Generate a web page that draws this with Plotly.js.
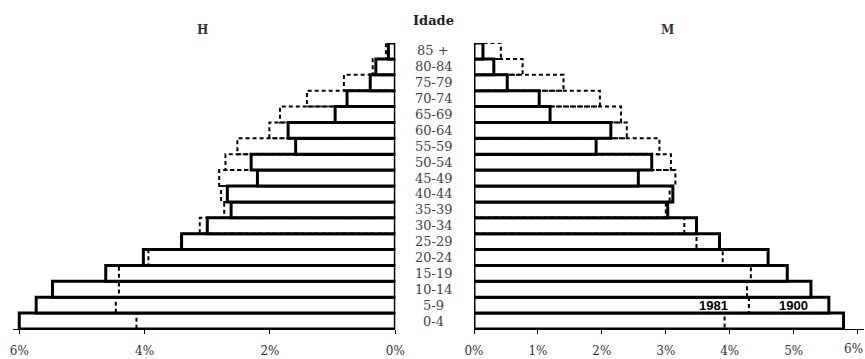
<!DOCTYPE html>
<html>
<head>
<meta charset="utf-8">
<script src="https://cdn.plot.ly/plotly-3.0.1.min.js"></script>
<style>html,body{margin:0;padding:0;background:#fff;}#chart{width:865px;height:359px;}</style>
</head>
<body>
<div id="chart"></div>
<script>
// Age groups, bottom to top
var ageGroups = ["0-4","5-9","10-14","15-19","20-24","25-29","30-34","35-39","40-44","45-49","50-54","55-59","60-64","65-69","70-74","75-79","80-84","85 +"];
// Men (H), percent of population
var men1900 = [6.00,5.73,5.47,4.62,4.02,3.41,3.00,2.62,2.68,2.20,2.30,1.59,1.71,0.96,0.77,0.40,0.31,0.11];
var men1981 = [4.13,4.46,4.41,4.41,3.94,3.42,3.12,2.73,2.78,2.81,2.71,2.52,2.01,1.84,1.41,0.82,0.36,0.15];
// Women (M), percent of population
var women1900 = [5.78,5.55,5.27,4.90,4.60,3.84,3.48,3.03,3.11,2.57,2.78,1.91,2.14,1.19,1.02,0.52,0.31,0.14];
var women1981 = [3.92,4.30,4.27,4.33,3.89,3.48,3.29,3.00,3.06,3.15,3.08,2.90,2.39,2.30,1.97,1.40,0.76,0.42];
var yearLabels = ["1981","1900"];
// Axis ticks
var menTicks = [0, 2, 4, 6];
var menTickText = ["0%", "2%", "4%", "6%"];
var womenTicks = [0, 1, 2, 3, 4, 5, 6];
var womenTickText = ["0%", "1%", "2%", "3%", "4%", "5%", ""];
var womenEdgeTick = [6];
var womenEdgeTickText = ["6%"];

var idx = ageGroups.map(function(_, i){ return i; });

// Build step outline for dashed series from data values
function outline(vals){
  var xs = [], ys = [];
  vals.forEach(function(v, i){
    xs.push(0, v, v, 0, null);
    ys.push(i-0.5, i-0.5, i+0.5, i+0.5, null);
  });
  return {x: xs, y: ys};
}
var oMen = outline(men1981), oWomen = outline(women1981);

var barStyle = {color: "#ffffff", line: {color: "#000000", width: 3}};
var dashStyle = {color: "#000000", width: 2, dash: "4px,3px"};

var traces = [
  {type: "bar", orientation: "h", x: men1900, y: idx, xaxis: "x", yaxis: "y", marker: barStyle, name: "H 1900", hoverinfo: "none"},
  {type: "bar", orientation: "h", x: women1900, y: idx, xaxis: "x2", yaxis: "y2", marker: barStyle, name: "M 1900", hoverinfo: "none"},
  {type: "scatter", mode: "lines", x: oMen.x, y: oMen.y, xaxis: "x", yaxis: "y", line: dashStyle, connectgaps: false, name: "H 1981", hoverinfo: "none"},
  {type: "scatter", mode: "lines", x: oWomen.x, y: oWomen.y, xaxis: "x2", yaxis: "y2", line: dashStyle, connectgaps: false, name: "M 1981", hoverinfo: "none"},
  {type: "scatter", mode: "lines", x: [], y: [], xaxis: "x3", yaxis: "y2", showlegend: false, hoverinfo: "none"}
];

var W = 865, H = 359, T = 43, B = 30;
var plotH = H - T - B;
function py(p){ return (H - B - p) / plotH; }

var tickFont = {family: "DejaVu Serif", size: 12, color: "#333333"};
var xCommon = {
  showgrid: false, zeroline: false, showline: true, linecolor: "#000000", linewidth: 1,
  ticks: "outside", ticklen: 4, tickcolor: "#000000", tickwidth: 1, tickmode: "array",
  tickfont: tickFont, ticklabelstandoff: 7, fixedrange: true
};

var annotations = ageGroups.map(function(g, i){
  return {text: g, xref: "paper", x: 433/W, yref: "y", y: i, showarrow: false,
          xanchor: "center", yanchor: "middle", font: {family: "DejaVu Serif", size: 13, color: "#444444"}};
});
annotations.push({text: "<b>H</b>", xref: "paper", x: 202/W, yref: "paper", y: py(30), showarrow: false, xanchor: "center", yanchor: "middle", font: {family: "DejaVu Serif", size: 12, color: "#333333"}});
annotations.push({text: "<b>M</b>", xref: "paper", x: 667/W, yref: "paper", y: py(30), showarrow: false, xanchor: "center", yanchor: "middle", font: {family: "DejaVu Serif", size: 12, color: "#333333"}});
annotations.push({text: "<b>" + yearLabels[0] + "</b>", xref: "x2", x: 3.74, yref: "y2", y: 1, showarrow: false, xanchor: "center", yanchor: "middle", font: {family: "Liberation Sans", size: 13, color: "#000000"}});
annotations.push({text: "<b>" + yearLabels[1] + "</b>", xref: "x2", x: 4.99, yref: "y2", y: 1, showarrow: false, xanchor: "center", yanchor: "middle", font: {family: "Liberation Sans", size: 13, color: "#000000"}});

var rightDomain = [474/W, 864/W];
var layout = {
  width: W, height: H,
  margin: {l: 0, r: 0, t: T, b: B},
  paper_bgcolor: "#ffffff", plot_bgcolor: "#ffffff",
  showlegend: false, bargap: 0,
  title: {text: "<b>Idade</b>", x: 433.5/W, xanchor: "center", xref: "paper", y: 1 - 20/H, yanchor: "middle", yref: "container",
          font: {family: "DejaVu Serif", size: 13, color: "#222222"}},
  xaxis: Object.assign({}, xCommon, {domain: [13/W, 395.3/W], range: [6.1, 0], tickvals: menTicks, ticktext: menTickText, anchor: "y"}),
  xaxis2: Object.assign({}, xCommon, {domain: rightDomain, range: [0, 6.1], tickvals: womenTicks, ticktext: womenTickText, anchor: "y2"}),
  xaxis3: Object.assign({}, xCommon, {domain: rightDomain, range: [0, 6.1], tickvals: womenEdgeTick, ticktext: womenEdgeTickText, anchor: "y2",
                                     overlaying: "x2", side: "bottom", showline: false, ticks: "", ticklabelshift: -4, ticklabelstandoff: 11}),
  yaxis: {domain: [0, 1], range: [-0.5, 17.5], showgrid: false, zeroline: false, showticklabels: false, showline: false, anchor: "x", fixedrange: true},
  yaxis2: {domain: [0, 1], range: [-0.5, 17.5], showgrid: false, zeroline: false, showticklabels: false, showline: false, anchor: "x2", fixedrange: true},
  annotations: annotations
};

Plotly.newPlot("chart", traces, layout, {displayModeBar: false, staticPlot: true});
</script>
</body>
</html>
